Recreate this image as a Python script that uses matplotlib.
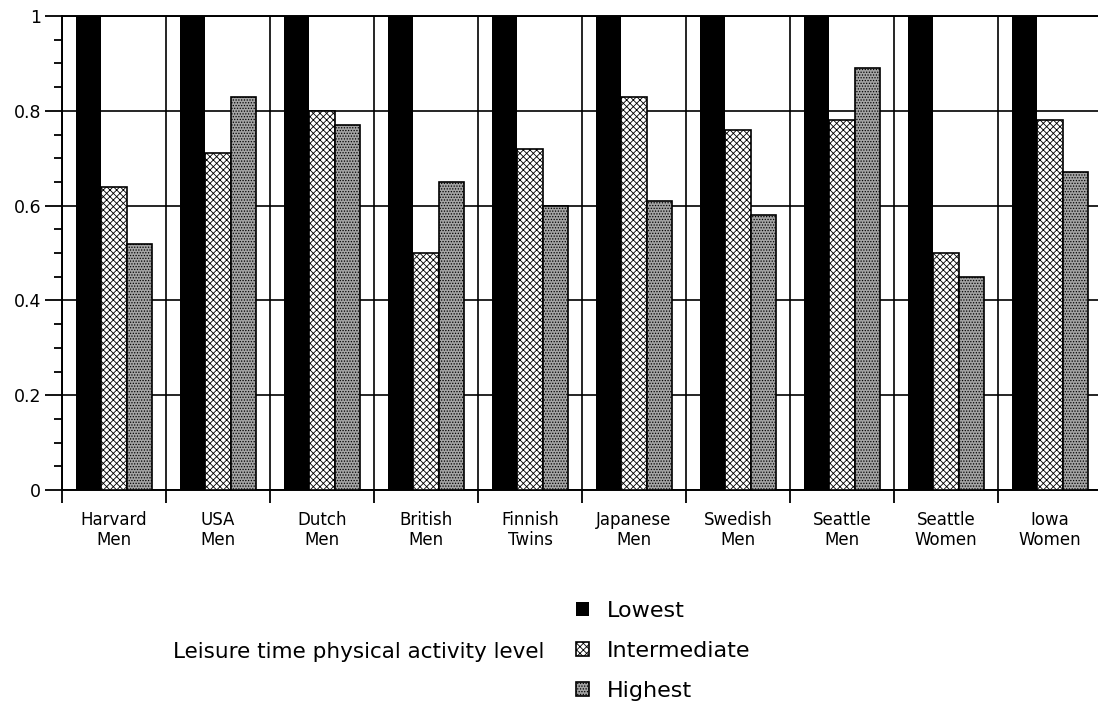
import matplotlib.pyplot as plt
import numpy as np
from matplotlib.ticker import MultipleLocator

# relative risk by leisure time activity level (lowest = reference 1.0)
groups = ['Harvard\nMen', 'USA\nMen', 'Dutch\nMen', 'British\nMen', 'Finnish\nTwins',
          'Japanese\nMen', 'Swedish\nMen', 'Seattle\nMen', 'Seattle\nWomen', 'Iowa\nWomen']
lowest = [1.0, 1.0, 1.0, 1.0, 1.0, 1.0, 1.0, 1.0, 1.0, 1.0]
intermediate = [0.64, 0.71, 0.80, 0.50, 0.72, 0.83, 0.76, 0.78, 0.50, 0.78]
highest = [0.52, 0.83, 0.77, 0.65, 0.60, 0.61, 0.58, 0.89, 0.45, 0.67]
levels = ['Lowest', 'Intermediate', 'Highest']
ytick_vals = [0, 0.2, 0.4, 0.6, 0.8, 1.0]
ytick_text = ['0', '0.2', '0.4', '0.6', '0.8', '1']

plt.rcParams['font.family'] = 'DejaVu Sans'
plt.rcParams['hatch.linewidth'] = 0.6

fig = plt.figure(figsize=(10.98, 7.11), dpi=100)
ax = fig.add_axes([62 / 1098, 221 / 711, 1040 / 1098, 474 / 711])

x = np.arange(len(groups)) + 0.5
w = 0.243
b1 = ax.bar(x - w, lowest, w, color='black', edgecolor='black', linewidth=0, zorder=3, label=levels[0])
b2 = ax.bar(x, intermediate, w, color='white', edgecolor='black', hatch='xxxxx', linewidth=1.2,
            zorder=3, label=levels[1])
b3 = ax.bar(x + w, highest, w, color='#a4a4a4', edgecolor='black', hatch='......', linewidth=1.2,
            zorder=3, label=levels[2])

ax.set_xlim(0, len(groups))
ax.set_ylim(0, 1)

# group boundaries: major ticks + vertical grid; names on minor ticks
ax.set_xticks(np.arange(len(groups) + 1))
ax.set_xticklabels([])
ax.set_xticks(x, minor=True)
ax.set_xticklabels(groups, minor=True, fontsize=12, linespacing=1.15)
ax.tick_params(axis='x', which='major', direction='out', length=9.5, width=1.3)
ax.tick_params(axis='x', which='minor', length=0, pad=15)

ax.set_yticks(ytick_vals)
ax.set_yticklabels(ytick_text, fontsize=12.5)
ax.yaxis.set_minor_locator(MultipleLocator(0.05))
ax.tick_params(axis='y', which='major', direction='out', length=12, width=1.3, pad=3)
ax.tick_params(axis='y', which='minor', direction='out', length=6, width=1.3)

ax.grid(True, which='major', color='black', linewidth=1.2, zorder=1)
ax.set_axisbelow(True)
for s in ['left', 'bottom', 'top']:
    ax.spines[s].set_linewidth(1.4)
ax.spines['right'].set_visible(False)

fig.text(173 / 1098, 1 - 652 / 711, 'Leisure time physical activity level', fontsize=15.5, va='center')
ax.legend(handles=[b1, b2, b3], loc='upper left', bbox_to_anchor=(576 / 1098, 1 - 601 / 711),
          bbox_transform=fig.transFigure, frameon=False, fontsize=16, handlelength=0.6,
          handleheight=0.6, handletextpad=0.8, labelspacing=0.9, borderpad=0, borderaxespad=0)

fig.savefig('out.png', dpi=100)
